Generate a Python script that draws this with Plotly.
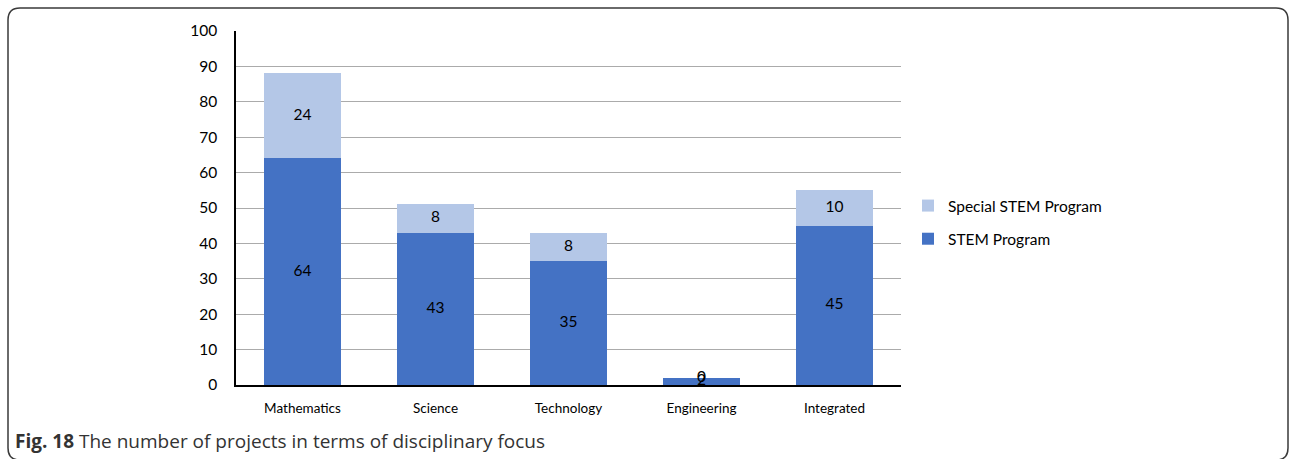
import plotly.graph_objects as go

# Projects by disciplinary focus
categories = ["Mathematics", "Science", "Technology", "Engineering", "Integrated"]
stem_program = [64, 43, 35, 2, 45]
special_stem = [24, 8, 8, 0, 10]
y_ticks = [0, 10, 20, 30, 40, 50, 60, 70, 80, 90, 100]

W, H = 1290, 459
# plot area edges in pixels
PL, PR, PT, PB = 236, 901, 31, 385
DARK = "#4472C4"
LIGHT = "#B4C7E7"
CHART_FONT = "Lato"


def px_x(v):
    return (v - PL) / (PR - PL)


def px_y(v):
    return (PB - v) / (PB - PT)


fig = go.Figure()

fig.add_trace(go.Bar(
    x=categories, y=stem_program, name="STEM Program",
    marker=dict(color=DARK, line=dict(width=0)),
    legendgroup="a", legendrank=2,
))
fig.add_trace(go.Bar(
    x=categories, y=special_stem, name="Special STEM Program",
    marker=dict(color=LIGHT, line=dict(width=0)),
    legendgroup="b", legendrank=1,
))

# value labels centred in each stacked segment
stem_mid = [v / 2 for v in stem_program]
special_mid = [s + v / 2 for s, v in zip(stem_program, special_stem)]
fig.add_trace(go.Scatter(
    x=categories, y=stem_mid, mode="text", text=[str(v) for v in stem_program],
    textfont=dict(family=CHART_FONT, size=15.5, color="#000000"),
    showlegend=False, hoverinfo="skip",
))
fig.add_trace(go.Scatter(
    x=categories, y=special_mid, mode="text", text=[str(v) for v in special_stem],
    textfont=dict(family=CHART_FONT, size=15.5, color="#000000"),
    showlegend=False, hoverinfo="skip",
))

# rounded panel outline
x0, x1 = px_x(8), px_x(1288)
y0, y1 = px_y(8), px_y(460)
rx = 12 / (PR - PL)
ry = 12 / (PB - PT)
frame = (
    f"M {x0},{y1 + ry} L {x0},{y0 - ry} Q {x0},{y0} {x0 + rx},{y0} "
    f"L {x1 - rx},{y0} Q {x1},{y0} {x1},{y0 - ry} L {x1},{y1 + ry} "
    f"Q {x1},{y1} {x1 - rx},{y1} L {x0 + rx},{y1} Q {x0},{y1} {x0},{y1 + ry} Z"
)
fig.add_shape(type="path", path=frame, xref="paper", yref="paper",
              line=dict(color="#3a3a3a", width=1.5), fillcolor="rgba(0,0,0,0)")

fig.add_annotation(
    x=px_x(13), y=px_y(441), xref="paper", yref="paper",
    xanchor="left", yanchor="middle", showarrow=False,
    text="<b>Fig. 18</b> The number of projects in terms of disciplinary focus",
    font=dict(family="Open Sans", size=19, color="#333333"),
)

fig.update_layout(
    width=W, height=H,
    margin=dict(l=PL, r=W - PR, t=PT, b=H - PB, autoexpand=False),
    paper_bgcolor="white", plot_bgcolor="white",
    barmode="stack", bargap=0.425,
    font=dict(family=CHART_FONT, color="#000000"),
    legend=dict(
        x=px_x(908), y=px_y(189), xanchor="left", yanchor="top",
        traceorder="grouped", tracegroupgap=10,
        font=dict(family=CHART_FONT, size=15.5, color="#000000"),
        bgcolor="rgba(0,0,0,0)",
    ),
    xaxis=dict(
        automargin=False,
        showline=True, linecolor="#000000", linewidth=1.5,
        showgrid=False, ticks="", ticklabelstandoff=10,
        tickfont=dict(family=CHART_FONT, size=13.5, color="#000000"),
        fixedrange=True,
    ),
    yaxis=dict(
        automargin=False,
        range=[0, 100], tickvals=y_ticks,
        showline=True, linecolor="#000000", linewidth=1.5,
        showgrid=True, gridcolor="#ababab", gridwidth=1,
        zeroline=False, ticks="", ticklabelstandoff=14,
        tickfont=dict(family=CHART_FONT, size=15.5, color="#000000"),
        fixedrange=True,
    ),
)

fig.write_html("out.html")
